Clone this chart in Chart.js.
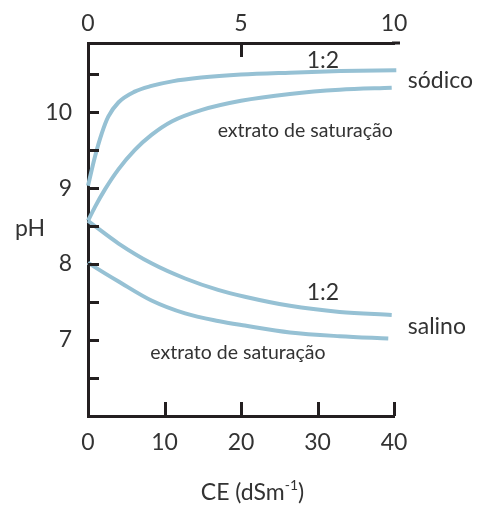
<!DOCTYPE html>
<html><head><meta charset="utf-8">
<script src="https://cdn.jsdelivr.net/npm/chart.js@4.4.0/dist/chart.umd.min.js"></script>
<style>html,body{margin:0;padding:0;background:#fff;}</style>
</head><body>
<canvas id="c" width="481" height="509"></canvas>
<script>
// ---- data ----
const ceSodico12  = [0, 0.9, 1.8, 2.65, 4, 6.1, 8.3, 11, 14.8, 20, 26.4, 33, 40.3];
const phSodico12  = [9.03, 9.41, 9.72, 9.94, 10.13, 10.27, 10.345, 10.405, 10.455, 10.495, 10.52, 10.54, 10.55];
const ceSodicoExt = [0, 0.9, 2.2, 4, 6.1, 8.3, 11, 14.9, 20, 26.4, 32.9, 39.7];
const phSodicoExt = [8.57, 8.75, 8.98, 9.25, 9.5, 9.70, 9.88, 10.03, 10.15, 10.24, 10.295, 10.32];
const ceSalino12  = [0, 0.9, 4, 8.3, 12.7, 17, 20.5, 26.4, 32.9, 39.7];
const phSalino12  = [8.57, 8.50, 8.27, 8.01, 7.81, 7.66, 7.57, 7.45, 7.37, 7.33];
const ceSalinoExt = [0, 0.9, 4, 8.3, 12.7, 17, 20.5, 26.4, 32.9, 39.25];
const phSalinoExt = [8.02, 7.96, 7.77, 7.52, 7.35, 7.25, 7.19, 7.10, 7.05, 7.02];

const ceTicks      = [0, 10, 20, 30, 40];     // bottom axis (dS m-1)
const topTicks     = [0, 5, 10];              // top axis
const phLabelTicks = [7, 8, 9, 10];
const phMarkTicks  = [6.5, 7, 7.5, 8, 8.5, 9, 9.5, 10, 10.5];
const ceMarkTicks  = [10, 20, 30, 40];
const topMarkTicks = [5];

const FONT = 'Lato';
const TXT = '#333333';
const AX = '#231f20';
const LINE = '#96c1d4';

const pts = (xs, ys) => xs.map((x, i) => ({x, y: ys[i]}));
const ds = (xs, ys) => ({
  data: pts(xs, ys), borderColor: LINE, borderWidth: 4, pointRadius: 0,
  cubicInterpolationMode: 'monotone', fill: false, clip: false, xAxisID: 'x', yAxisID: 'y'
});

const decor = {
  id: 'decor',
  afterDatasetsDraw(chart) {
    const {ctx, scales: {x, x2, y}, chartArea: ca} = chart;
    ctx.save();
    ctx.strokeStyle = AX; ctx.lineWidth = 3; ctx.lineCap = 'butt';
    // inner tick marks
    phMarkTicks.forEach(v => { const py = Math.round(y.getPixelForValue(v)) + 0.5;
      ctx.beginPath(); ctx.moveTo(ca.left, py); ctx.lineTo(ca.left + 11, py); ctx.stroke(); });
    ceMarkTicks.forEach(v => { const px = Math.round(x.getPixelForValue(v)) + 0.5;
      ctx.beginPath(); ctx.moveTo(px, ca.bottom); ctx.lineTo(px, ca.bottom - 14); ctx.stroke(); });
    topMarkTicks.forEach(v => { const px = Math.round(x2.getPixelForValue(v)) + 0.5;
      ctx.beginPath(); ctx.moveTo(px, ca.top); ctx.lineTo(px, ca.top + 14); ctx.stroke(); });
    // top axis extends slightly past the frame
    ctx.beginPath(); ctx.moveTo(ca.right - 2, ca.top); ctx.lineTo(ca.right + 6, ca.top); ctx.stroke();

    ctx.fillStyle = TXT; ctx.textBaseline = 'middle';
    const txt = (s, cx, cy, size, align) => { ctx.font = size + 'px ' + FONT; ctx.textAlign = align; ctx.fillText(s, cx, cy); };
    txt('1:2', x.getPixelForValue(30.7), y.getPixelForValue(10.68), 23, 'center');
    txt('1:2', x.getPixelForValue(30.7), y.getPixelForValue(7.62), 23, 'center');
    txt('sódico', x.getPixelForValue(41.8), y.getPixelForValue(10.42), 23, 'left');
    txt('salino', x.getPixelForValue(41.8), y.getPixelForValue(7.18), 23, 'left');
    txt('extrato de saturação', x.getPixelForValue(28.4), y.getPixelForValue(9.76), 19.5, 'center');
    txt('extrato de saturação', x.getPixelForValue(19.6), y.getPixelForValue(6.83), 19.5, 'center');
    txt('pH', 30, y.getPixelForValue(8.47), 23, 'center');
    // x-axis title with superscript
    const cx = x.getPixelForValue(21.5), cy = 493;
    ctx.font = '23px ' + FONT;
    const a = 'CE (dSm', b = '-1', c = ')';
    const wa = ctx.measureText(a).width, wc = ctx.measureText(c).width;
    ctx.font = '14px ' + FONT; const wb = ctx.measureText(b).width;
    let sx = cx - (wa + wb + wc) / 2;
    ctx.textAlign = 'left';
    ctx.font = '23px ' + FONT; ctx.fillText(a, sx, cy); sx += wa;
    ctx.font = '14px ' + FONT; ctx.fillText(b, sx, cy - 8); sx += wb;
    ctx.font = '23px ' + FONT; ctx.fillText(c, sx, cy);
    ctx.restore();
  }
};

new Chart(document.getElementById('c'), {
  type: 'line',
  data: { datasets: [ds(ceSodico12, phSodico12), ds(ceSodicoExt, phSodicoExt), ds(ceSalino12, phSalino12), ds(ceSalinoExt, phSalinoExt)] },
  options: {
    responsive: false, devicePixelRatio: 1, animation: false,
    layout: { padding: { left: 0, top: 0, right: 87, bottom: 0 } },
    plugins: { legend: { display: false }, tooltip: { enabled: false } },
    scales: {
      x: { type: 'linear', position: 'bottom', min: 0, max: 40,
        grid: { display: false, drawTicks: false },
        border: { display: true, color: AX, width: 3 },
        ticks: { font: { family: FONT, size: 23 }, color: TXT, padding: 13, maxRotation: 0 },
        afterBuildTicks: s => { s.ticks = ceTicks.map(v => ({value: v})); },
        afterFit: s => { s.height = 93; } },
      x2: { type: 'linear', position: 'top', min: 0, max: 10,
        grid: { display: false, drawTicks: false },
        border: { display: true, color: AX, width: 3 },
        ticks: { font: { family: FONT, size: 23 }, color: TXT, padding: 6, maxRotation: 0 },
        afterBuildTicks: s => { s.ticks = topTicks.map(v => ({value: v})); },
        afterFit: s => { s.height = 43; } },
      y: { type: 'linear', position: 'left', min: 6, max: 10.91,
        grid: { display: false, drawTicks: false },
        border: { display: true, color: AX, width: 3 },
        ticks: { font: { family: FONT, size: 23 }, color: TXT, padding: 16 },
        afterBuildTicks: s => { s.ticks = phLabelTicks.map(v => ({value: v})); },
        afterFit: s => { s.width = 88; } }
    }
  },
  plugins: [decor]
});
</script>
</body></html>
